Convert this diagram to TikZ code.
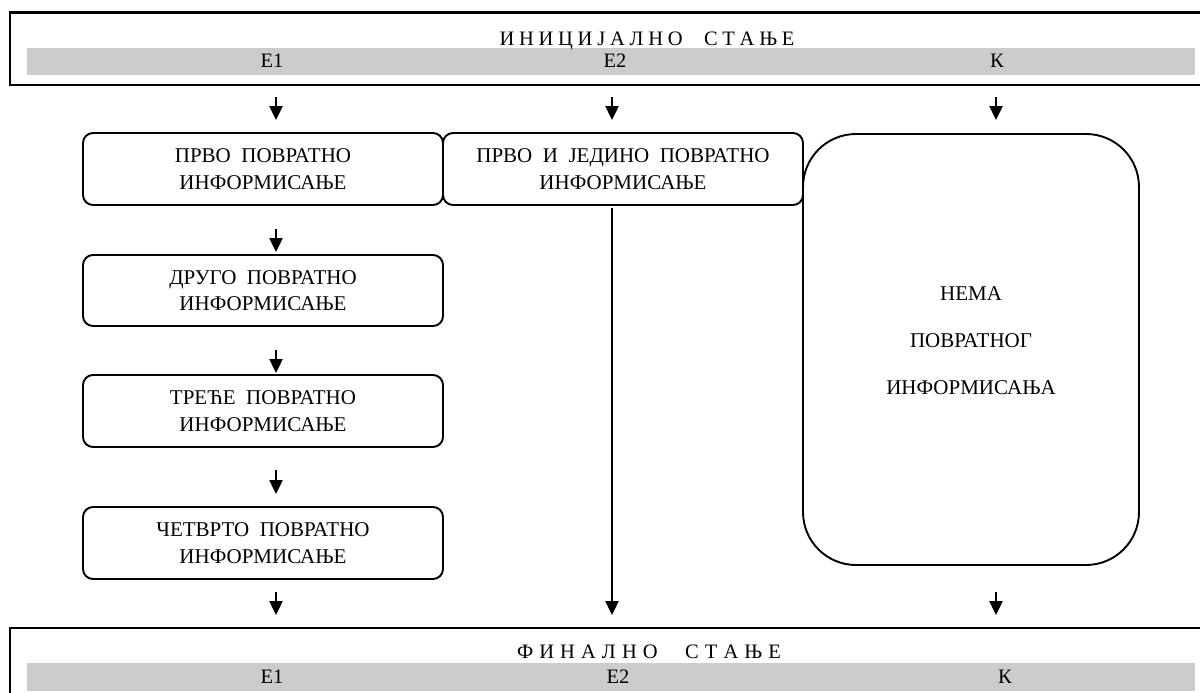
\documentclass[tikz,border=0pt]{standalone}
\usepackage{fontspec}
\setmainfont{Liberation Serif}
\usetikzlibrary{arrows.meta}
\definecolor{barg}{RGB}{204,204,204}
\newcommand\tlsp{\hskip 0pt plus 1fil\relax}
\newcommand\twsp{\hskip 0pt plus 4.5fil\relax}
\begin{document}
\begin{tikzpicture}[x=1pt,y=-1pt,
  frame/.style={draw,line width=2.6pt},
  bar/.style={fill=barg,draw=none},
  fb/.style={draw,line width=1.9pt,rounded corners=10pt,minimum width=360pt,minimum height=72pt,inner sep=0pt,align=center,font=\fontsize{21}{26.5}\selectfont},
  bigbox/.style={draw,line width=1.9pt,rounded corners=53pt,minimum width=336pt,minimum height=431pt,inner sep=0pt},
  arr/.style={line width=2.4pt,-{Triangle[length=14pt,width=13pt]}},
  lbl/.style={font=\fontsize{20.5}{24}\selectfont,inner sep=0pt,anchor=base}]
\useasboundingbox (0,0) rectangle (1200,693);
\fill[white] (0,0) rectangle (1200,693);
% top frame
\draw[frame] (10,12.7) rectangle (1230,85);
\fill[bar] (27,48) rectangle (1195,75);
\node[lbl] (ititle) at (647,46) {\hbox to 295pt{И\tlsp Н\tlsp И\tlsp Ц\tlsp И\tlsp Ј\tlsp А\tlsp Л\tlsp Н\tlsp О\twsp С\tlsp Т\tlsp А\tlsp Њ\tlsp Е}};
\node[lbl] (ie1) at (272,68) {Е1};
\node[lbl] (ie2) at (615,68) {Е2};
\node[lbl] (ik) at (997,68) {К};
% bottom frame
\draw[frame] (10,628) rectangle (1230,720);
\fill[bar] (27,663) rectangle (1195,691);
\node[lbl] (ftitle) at (649,658) {\hbox to 264pt{Ф\tlsp И\tlsp Н\tlsp А\tlsp Л\tlsp Н\tlsp О\twsp С\tlsp Т\tlsp А\tlsp Њ\tlsp Е}};
\node[lbl] (fe1) at (272,683) {Е1};
\node[lbl] (fe2) at (618,683) {Е2};
\node[lbl] (fk) at (1005,683) {К};
% boxes
\node[fb] (b1) at (263,169) {ПРВО~ ПОВРАТНО\\ИНФОРМИСАЊЕ};
\node[fb,minimum height=71pt] (b2) at (263,290.5) {ДРУГО~ ПОВРАТНО\\ИНФОРМИСАЊЕ};
\node[fb] (b3) at (263,411) {ТРЕЋЕ~ ПОВРАТНО\\ИНФОРМИСАЊЕ};
\node[fb] (b4) at (263,543) {ЧЕТВРТО~ ПОВРАТНО\\ИНФОРМИСАЊЕ};
\node[fb] (m1) at (623,169) {ПРВО~ И~ ЈЕДИНО~ ПОВРАТНО\\ИНФОРМИСАЊЕ};
\node[bigbox] (r1) at (971,349.5) {};
\node[align=center,inner sep=0pt,font=\fontsize{21}{47}\selectfont] (rtext) at (971,341) {НЕМА\\ПОВРАТНОГ\\ИНФОРМИСАЊА};
% arrow coordinates
\coordinate (a0s) at (276,97);  \coordinate (a0e) at (276,120);
\coordinate (a1s) at (276,229); \coordinate (a1e) at (276,252);
\coordinate (a2s) at (276,350); \coordinate (a2e) at (276,373);
\coordinate (a3s) at (276,470); \coordinate (a3e) at (276,494);
\coordinate (a4s) at (276,592); \coordinate (a4e) at (276,615);
\coordinate (m0s) at (612,97);  \coordinate (m0e) at (612,120);
\coordinate (m1s) at (612,208); \coordinate (m1e) at (612,615);
\coordinate (k0s) at (996,97);  \coordinate (k0e) at (996,120);
\coordinate (k1s) at (996,592); \coordinate (k1e) at (996,615);
\draw[arr] (a0s) -- (a0e);
\draw[arr] (a1s) -- (a1e);
\draw[arr] (a2s) -- (a2e);
\draw[arr] (a3s) -- (a3e);
\draw[arr] (a4s) -- (a4e);
\draw[arr] (m0s) -- (m0e);
\draw[arr] (m1s) -- (m1e);
\draw[arr] (k0s) -- (k0e);
\draw[arr] (k1s) -- (k1e);
\end{tikzpicture}
\end{document}
